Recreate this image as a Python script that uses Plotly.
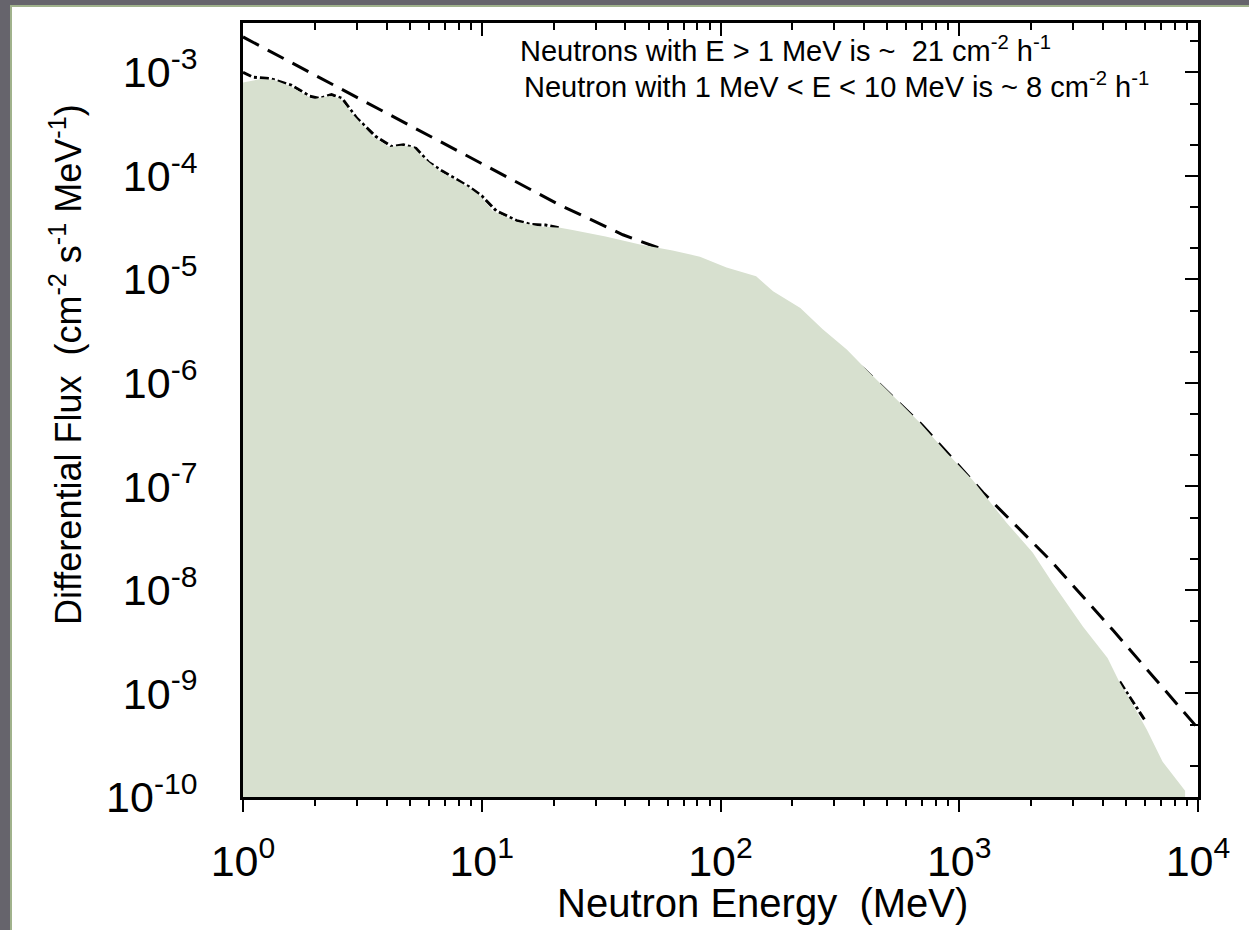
import plotly.graph_objects as go

# ---------------- data ----------------
energy_fill = [1.0, 1.18, 1.34, 1.57, 1.96, 2.31, 2.55, 2.89, 3.5, 4.1, 4.6, 5.16, 5.6, 6.7,
               8.7, 9.85, 11.1, 14, 17.5, 21.3, 24, 33, 46, 63, 82, 106, 141, 166, 216,
               268, 338, 384, 408, 566, 686, 888, 1140, 1578, 2030, 2460, 2990, 3300,
               4180, 4680, 5300, 6100, 7100, 8830]
flux_fill = [8.0e-4, 8.6e-4, 8.5e-4, 7.4e-4, 5.5e-4, 5.9e-4, 5.6e-4, 3.9e-4, 2.4e-4, 1.9e-4,
             1.95e-4, 1.9e-4, 1.55e-4, 1.1e-4, 7.9e-5, 6.4e-5, 4.6e-5, 3.6e-5, 3.25e-5,
             3.15e-5, 3.0e-5, 2.6e-5, 2.18e-5, 1.9e-5, 1.66e-5, 1.3e-5, 1.07e-5, 7.7e-6,
             5.3e-6, 3.3e-6, 2.1e-6, 1.55e-6, 1.35e-6, 6.4e-7, 4.1e-7, 2.1e-7, 1.15e-7,
             4.45e-8, 2.3e-8, 1.17e-8, 6.0e-9, 4.4e-9, 2.2e-9, 1.3e-9, 8.0e-10, 4.5e-10,
             2.2e-10, 1.15e-10]

energy_fit = [1, 21, 39, 59, 100, 200, 400, 700, 1260, 2400, 4400, 10000]
flux_fit = [2.2e-3, 5.3e-5, 2.7e-5, 1.9e-5, 1.15e-5, 5.0e-6, 1.35e-6, 3.9e-7, 8.7e-8,
            1.95e-8, 4.1e-9, 4.6e-10]

energy_meas = [1.0, 1.1, 1.3, 1.6, 1.9, 2.1, 2.35, 2.6, 3.0, 3.6, 4.2, 4.7, 5.3, 6.0, 6.8,
               8.8, 10, 11.5, 14, 16, 18.5, 21, None, 4700, 5500, 6000]
flux_meas = [1.0e-3, 9.0e-4, 8.7e-4, 7.5e-4, 5.9e-4, 5.6e-4, 6.1e-4, 5.6e-4, 3.6e-4,
             2.4e-4, 1.92e-4, 2.0e-4, 1.85e-4, 1.35e-4, 1.12e-4, 7.9e-5, 6.4e-5, 4.6e-5,
             3.7e-5, 3.4e-5, 3.35e-5, 3.15e-5, None, 1.3e-9, 7.5e-10, 5.5e-10]

x_tick_vals = [1, 10, 100, 1000, 10000]
x_tick_text = ["10<sup>0</sup>", "10<sup>1</sup>", "10<sup>2</sup>", "10<sup>3</sup>", "10<sup>4</sup>"]
y_tick_vals = [1e-10, 1e-9, 1e-8, 1e-7, 1e-6, 1e-5, 1e-4, 1e-3]
y_tick_text = ["10<sup>-10</sup>", "10<sup>-9</sup>", "10<sup>-8</sup>", "10<sup>-7</sup>",
               "10<sup>-6</sup>", "10<sup>-5</sup>", "10<sup>-4</sup>", "10<sup>-3</sup>"]

note_1 = "Neutrons with E > 1 MeV is ~  21 cm<sup>-2</sup> h<sup>-1</sup>"
note_2 = "Neutron with 1 MeV < E < 10 MeV is ~ 8 cm<sup>-2</sup> h<sup>-1</sup>"
x_title = "Neutron Energy  (MeV)"
y_title = "Differential Flux  (cm<sup>-2</sup> s<sup>-1</sup> MeV<sup>-1</sup>)"

Y_BASE = 1e-10
X_RANGE = [0, 4]
Y_RANGE = [-10, -2.523]

# ---------------- geometry ----------------
W, H = 1249, 930
L, R, T, B = 243, 51, 23, 133
PW, PH = W - L - R, H - T - B

def px(xp):
    return (xp - L) / PW

def py(yp):
    return (H - B - yp) / PH

FONT = "Liberation Sans, Arial, sans-serif"
FILL = "rgb(215,224,207)"

x_minor = [m * 10 ** d for d in range(0, 4) for m in range(2, 10)]
y_minor = [m * 10.0 ** d for d in range(-10, -2) for m in (2, 5)]

fig = go.Figure()

fig.add_trace(go.Scatter(x=energy_meas, y=flux_meas, mode="lines",
                         line=dict(color="black", width=3, dash="dashdot"),
                         connectgaps=False, showlegend=False, hoverinfo="skip"))
fig.add_trace(go.Scatter(x=energy_fit, y=flux_fit, mode="lines",
                         line=dict(color="black", width=3, dash="18px,10px"),
                         showlegend=False, hoverinfo="skip"))
fig.add_trace(go.Scatter(x=energy_fill + [energy_fill[-1], energy_fill[0]],
                         y=flux_fill + [Y_BASE, Y_BASE],
                         mode="lines", fill="toself", fillcolor=FILL,
                         line=dict(width=0, color=FILL),
                         showlegend=False, hoverinfo="skip"))
fig.add_trace(go.Scatter(x=[], y=[], xaxis="x2", yaxis="y2", showlegend=False))

fig.update_layout(
    width=W, height=H,
    margin=dict(l=L, r=R, t=T, b=B, pad=0),
    paper_bgcolor="white", plot_bgcolor="white",
    font=dict(family=FONT, color="black"),
    xaxis=dict(type="log", range=X_RANGE, autorange=False,
               showline=True, linewidth=3, linecolor="black", mirror=True,
               showgrid=False, zeroline=False,
               ticks="outside", ticklen=12, tickwidth=2, tickcolor="black",
               tickmode="array", tickvals=x_tick_vals, ticktext=x_tick_text,
               tickfont=dict(size=43, family=FONT, color="black"),
               ticklabelstandoff=12,
               minor=dict(ticks="outside", ticklen=6, tickwidth=1.5, tickcolor="black",
                          tickmode="array", tickvals=x_minor, showgrid=False)),
    yaxis=dict(type="log", range=Y_RANGE, autorange=False,
               showline=True, linewidth=3, linecolor="black", mirror=True,
               showgrid=False, zeroline=False,
               ticks="", tickmode="array", tickvals=y_tick_vals, ticktext=y_tick_text,
               tickfont=dict(size=43, family=FONT, color="black"),
               ticklabelstandoff=34),
    xaxis2=dict(type="log", range=X_RANGE, autorange=False, overlaying="x", side="top",
                anchor="y", showline=False, showgrid=False, zeroline=False,
                ticks="inside", ticklen=13, tickwidth=2, tickcolor="black",
                tickmode="array", tickvals=x_tick_vals, showticklabels=False,
                minor=dict(ticks="inside", ticklen=7, tickwidth=1.5, tickcolor="black",
                           tickmode="array", tickvals=x_minor, showgrid=False)),
    yaxis2=dict(type="log", range=Y_RANGE, autorange=False, overlaying="y", side="right",
                anchor="x", showline=False, showgrid=False, zeroline=False,
                ticks="inside", ticklen=13, tickwidth=2, tickcolor="black",
                tickmode="array", tickvals=y_tick_vals, showticklabels=False,
                minor=dict(ticks="inside", ticklen=8, tickwidth=1.5, tickcolor="black",
                           tickmode="array", tickvals=y_minor, showgrid=False)),
    annotations=[
        dict(text=note_1, x=px(518), y=py(49), xref="paper", yref="paper",
             xanchor="left", yanchor="middle", showarrow=False,
             font=dict(size=29, family=FONT, color="black")),
        dict(text=note_2, x=px(522), y=py(85), xref="paper", yref="paper",
             xanchor="left", yanchor="middle", showarrow=False,
             font=dict(size=29, family=FONT, color="black")),
        dict(text=x_title, x=px(762), y=py(903), xref="paper", yref="paper",
             xanchor="center", yanchor="middle", showarrow=False,
             font=dict(size=40, family=FONT, color="black")),
        dict(text=y_title, x=px(66), y=py(365), xref="paper", yref="paper",
             xanchor="center", yanchor="middle", showarrow=False, textangle=-90,
             font=dict(size=36, family=FONT, color="black")),
    ],
    shapes=[
        dict(type="rect", xref="paper", yref="paper", x0=px(0), x1=px(W), y0=py(0), y1=py(5),
             fillcolor="rgb(102,100,108)", line=dict(width=0), layer="above"),
        dict(type="rect", xref="paper", yref="paper", x0=px(0), x1=px(10), y0=py(0), y1=py(H),
             fillcolor="rgb(102,100,108)", line=dict(width=0), layer="above"),
        dict(type="rect", xref="paper", yref="paper", x0=px(10), x1=px(W), y0=py(5), y1=py(7),
             fillcolor="rgb(160,178,140)", line=dict(width=0), layer="above"),
        dict(type="rect", xref="paper", yref="paper", x0=px(10), x1=px(12), y0=py(5), y1=py(H),
             fillcolor="rgb(160,178,140)", line=dict(width=0), layer="above"),
    ],
)

fig.write_html("out.html")
